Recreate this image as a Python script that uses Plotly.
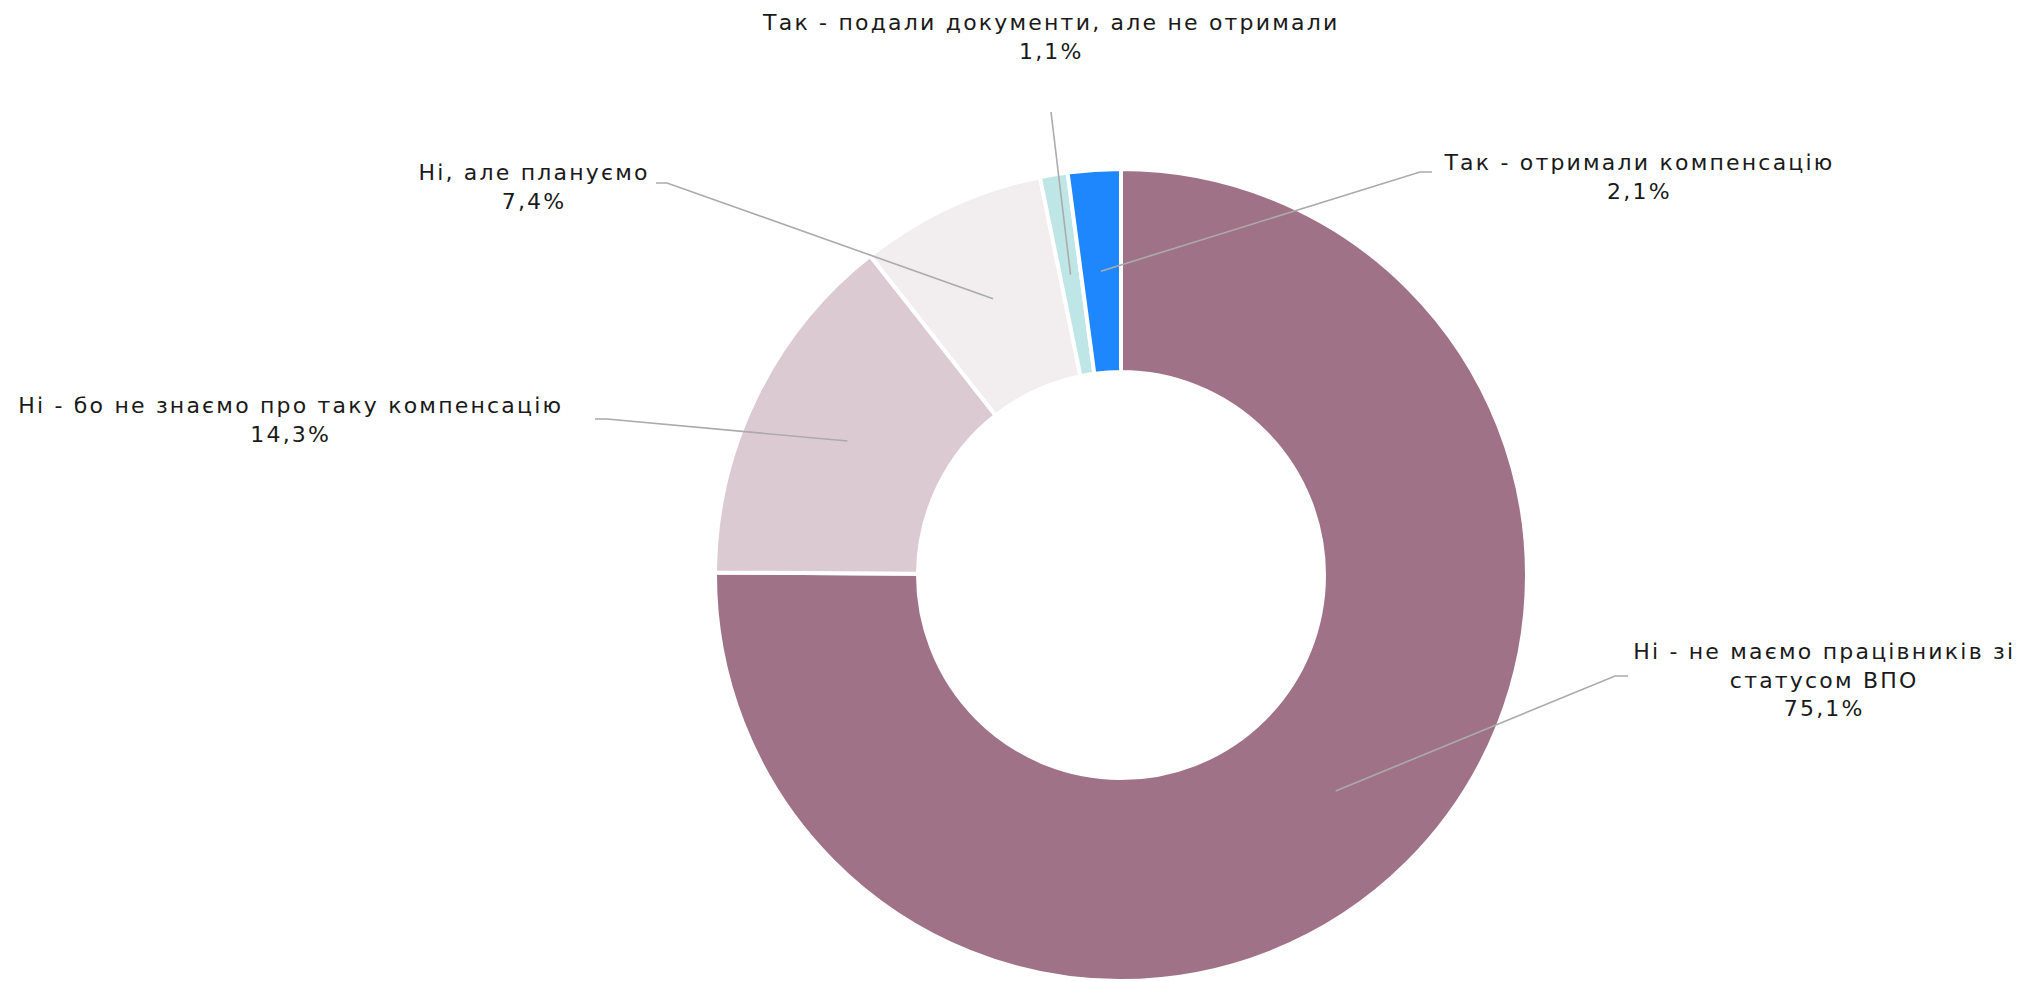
import math
import plotly.graph_objects as go

# ---- data ----
labels = [
    "Ні - не маємо працівників зі<br>статусом ВПО",
    "Ні - бо не знаємо про таку компенсацію",
    "Ні, але плануємо",
    "Так - подали документи, але не отримали",
    "Так - отримали компенсацію",
]
values = [75.1, 14.3, 7.4, 1.1, 2.1]
value_text = ["75,1%", "14,3%", "7,4%", "1,1%", "2,1%"]
colors = ["#A07288", "#DCCAD3", "#F2EDEF", "#BEE6E6", "#1E87FE"]

# ---- layout constants (pixels) ----
W, H = 2026, 981
CX, CY = 1121, 575
R_OUT = 406
HOLE = 0.5
FONT = "DejaVu Sans"
FONT_SIZE = 22
LETTER_SPACING = "2.2px"

# label centres (pixels), leader elbow points (pixels)
label_pos = [
    (1824, 680),
    (290, 420),
    (534, 187),
    (1051, 37),
    (1639, 177),
]
leader_pts = [
    [(1615, 676), (1628, 676)],
    [(607, 419), (595, 419)],
    [(667, 183), (656, 183)],
    [(1051, 112)],
    [(1420, 172), (1432, 172)],
]


def px(x):
    return x / W


def py(y):
    return 1 - y / H


fig = go.Figure(
    go.Pie(
        labels=labels,
        values=values,
        sort=False,
        direction="clockwise",
        rotation=0,
        hole=HOLE,
        textinfo="none",
        marker=dict(colors=colors, line=dict(color="white", width=4)),
        domain=dict(x=[px(CX - R_OUT), px(CX + R_OUT)], y=[py(CY + R_OUT), py(CY - R_OUT)]),
        showlegend=False,
        hoverinfo="label+percent",
    )
)

total = sum(values)
r_mid = R_OUT * (1 + HOLE) / 2
cum = 0.0
shapes = []
annotations = []
for i, v in enumerate(values):
    mid = (cum + v / 2) / total * 2 * math.pi
    cum += v
    ax = CX + r_mid * math.sin(mid)
    ay = CY - r_mid * math.cos(mid)
    pts = [(ax, ay)] + leader_pts[i]
    path = "M " + " L ".join(f"{px(x):.5f},{py(y):.5f}" for x, y in pts)
    shapes.append(dict(type="path", xref="paper", yref="paper", path=path,
                       line=dict(color="#ABABAB", width=1.6)))
    lx, ly = label_pos[i]
    annotations.append(dict(
        x=px(lx), y=py(ly), xref="paper", yref="paper",
        xanchor="center", yanchor="middle", align="center", showarrow=False,
        text=labels[i] + "<br>" + value_text[i],
        font=dict(family=FONT, size=FONT_SIZE, color="#1A1A1A"),
    ))

fig.update_layout(
    width=W, height=H,
    margin=dict(l=0, r=0, t=0, b=0),
    paper_bgcolor="white",
    plot_bgcolor="white",
    shapes=shapes,
    annotations=annotations,
)

post = (
    "document.body.style.margin='0';document.body.style.overflow='hidden';"
    "var st=document.createElement('style');"
    f"st.textContent='.annotation-text{{letter-spacing:{LETTER_SPACING};}}';"
    "document.head.appendChild(st);"
)
fig.write_html("out.html", post_script=post, config={"displayModeBar": False})
